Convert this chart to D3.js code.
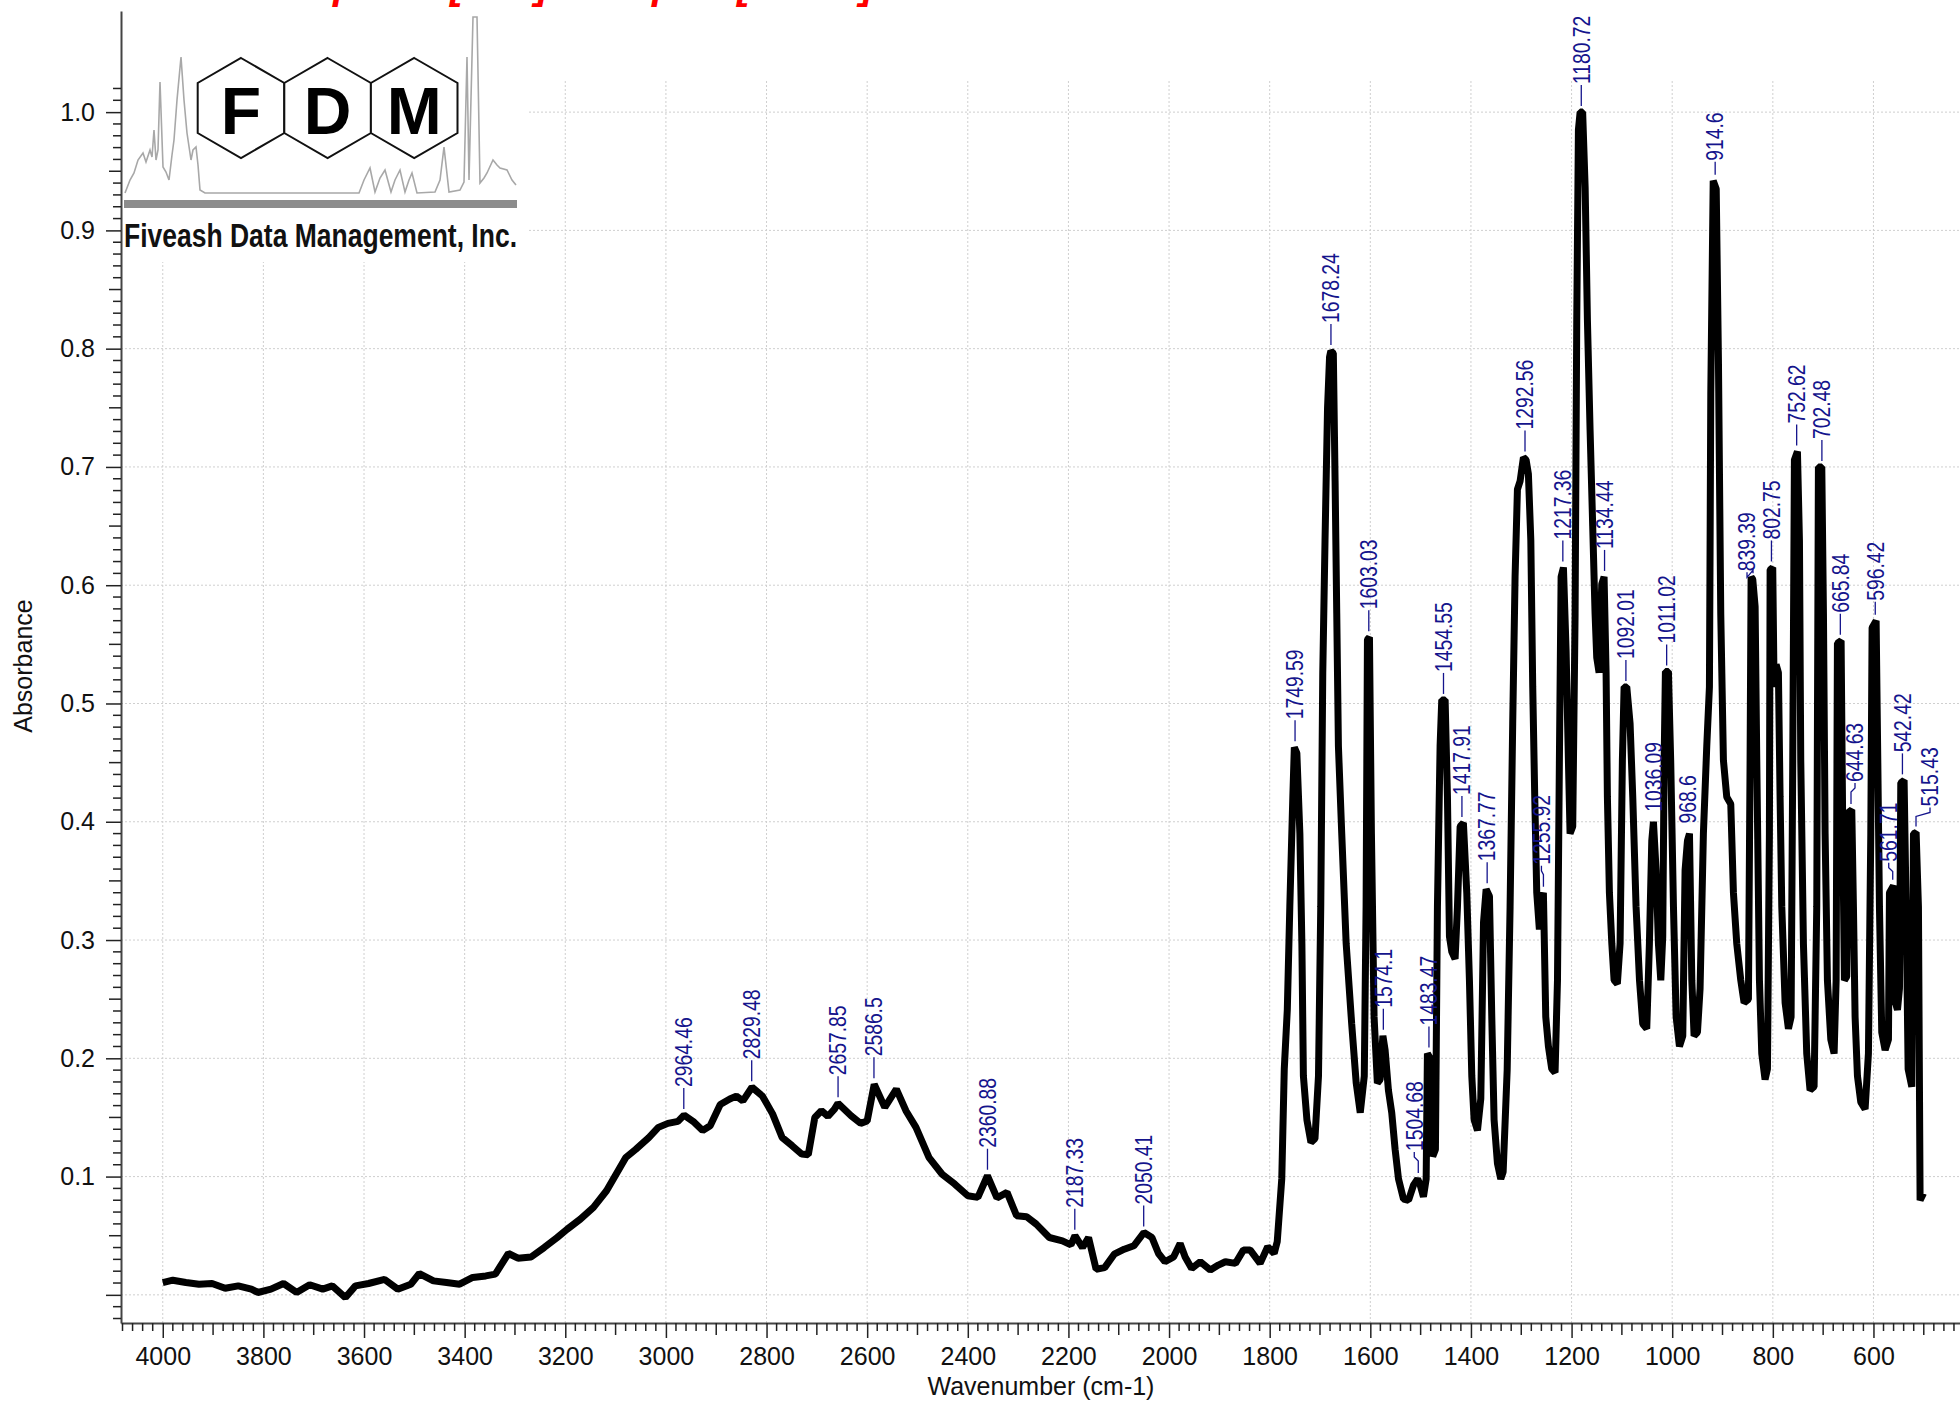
<!DOCTYPE html>
<html><head><meta charset="utf-8">
<script src="https://cdn.jsdelivr.net/npm/d3@7"></script>
<style>html,body{margin:0;padding:0;background:#fff;overflow:hidden}svg{display:block;font-family:"Liberation Sans",Arial,Helvetica,sans-serif}</style>
</head><body><svg id="chart" width="1960" height="1401"></svg>
<script>
// ---------------- data ----------------
const wavenumbers = [4000,3980,3954,3928,3902,3876,3850,3824,3811,3785,3760,3734,3708,3682,3663,3637,3617,3591,3559,3533,3507,3490,3462,3436,3410,3384,3358,3339,3313,3294,3268,3242,3216,3196,3170,3144,3118,3099,3080,3060,3034,3015,2996,2976,2964,2944,2927,2912,2892,2873,2860,2847,2829,2808,2788,2769,2749,2730,2717,2704,2691,2678,2665,2658,2632,2613,2600,2586,2565,2542,2523,2503,2477,2451,2426,2400,2380,2361,2342,2322,2303,2283,2264,2238,2212,2195,2187,2172,2160,2145,2128,2109,2089,2070,2050,2034,2021,2008,1991,1978,1968,1955,1938,1918,1902,1888,1868,1852,1839,1819,1804,1791,1785,1776,1771,1765,1760,1754,1751,1746,1740,1736,1733,1726,1718,1710,1703,1698.5,1694.5,1690,1685,1681,1678.5,1673.5,1670,1666.7,1663.4,1656.8,1648,1637,1628,1620,1612,1608.4,1605.7,1601.7,1597.8,1592.5,1586,1580.5,1575,1570.6,1564,1557.4,1550.7,1544,1534,1524,1514,1506,1501,1494.4,1489,1486.5,1481,1476,1470.6,1466.6,1461.3,1458,1451.3,1446.7,1442.7,1438,1431.5,1426.8,1421.5,1415,1408.3,1403,1398.3,1393.7,1387,1380.4,1375,1369.8,1363.2,1358.6,1354,1347.3,1340.7,1336,1328,1322.2,1317,1312.3,1307.6,1302.3,1295.7,1290.4,1285.8,1281,1277.2,1273.2,1269.2,1264,1260,1256,1251.3,1246,1239.4,1232.8,1228,1224.2,1220.8,1216.2,1210.9,1206.3,1203,1197.7,1193,1189.7,1186.4,1183,1178,1173,1168.5,1163.2,1158,1153.3,1150,1145.3,1140,1135.4,1131.4,1128.8,1124.8,1120,1115.5,1109,1103.6,1099,1095.6,1090.3,1083.7,1078.4,1071.8,1065,1058.5,1050.6,1045.3,1040.6,1037.3,1032,1027.4,1022.7,1018.8,1016,1013.5,1007.5,1003,997.5,992.2,985.6,979,974.4,969.7,965.7,961,956.5,949.8,944.6,938,931.3,926,923.3,918.5,912.5,908.1,903.5,898.2,891.6,883.6,878.3,871.7,863.7,857.1,848.5,845.2,843.2,839.9,835.2,831.9,826.6,822,815.4,810.7,806.8,805.4,800.2,797.5,793.5,788.9,785.6,782.2,775.6,769,763.7,760.4,757.1,751.1,747.1,744.5,739.2,732.6,726,718,712.7,709.4,702.7,699.4,696.1,691.5,684.8,678.2,674.2,671.6,664.3,661,657.7,653.1,649.7,643.1,639.8,636.5,631.8,625.2,616.6,610,605.3,602.7,594.7,591.4,588.1,583.5,576.8,570.2,568.2,560.3,556.3,552.3,548.3,545.7,539.1,535.1,531.1,523.8,520.5,515.2,510.6,507.3,500.6];
const absorbance = [0.0104,0.0124,0.0104,0.009,0.0096,0.0056,0.0076,0.0048,0.002,0.0048,0.0096,0.002,0.0085,0.0048,0.0076,-0.0023,0.0076,0.0096,0.013,0.0048,0.009,0.018,0.0118,0.0104,0.009,0.0147,0.016,0.0175,0.035,0.031,0.032,0.040,0.0485,0.0556,0.064,0.074,0.088,0.102,0.116,0.123,0.133,0.1416,0.145,0.1467,0.152,0.146,0.139,0.143,0.161,0.1656,0.168,0.164,0.1755,0.168,0.153,0.133,0.126,0.119,0.1185,0.15,0.1557,0.151,0.157,0.162,0.1515,0.145,0.147,0.178,0.1585,0.174,0.1557,0.1416,0.116,0.102,0.0937,0.0838,0.0824,0.1007,0.082,0.0866,0.0669,0.066,0.0598,0.0485,0.0457,0.0423,0.05,0.040,0.0485,0.0217,0.023,0.0344,0.0386,0.0415,0.0527,0.0485,0.035,0.028,0.032,0.0435,0.032,0.0223,0.028,0.021,0.0252,0.028,0.0266,0.038,0.038,0.0266,0.0407,0.035,0.045,0.098,0.191,0.241,0.328,0.421,0.463,0.458,0.39,0.297,0.185,0.148,0.129,0.132,0.185,0.328,0.526,0.638,0.75,0.793,0.798,0.796,0.688,0.576,0.464,0.39,0.297,0.229,0.179,0.154,0.185,0.328,0.554,0.556,0.39,0.235,0.179,0.182,0.219,0.207,0.173,0.154,0.123,0.098,0.081,0.08,0.093,0.098,0.093,0.083,0.098,0.204,0.2,0.117,0.123,0.328,0.464,0.503,0.503,0.421,0.303,0.29,0.284,0.328,0.396,0.399,0.34,0.266,0.185,0.148,0.139,0.166,0.315,0.343,0.337,0.235,0.148,0.111,0.098,0.104,0.19,0.328,0.483,0.607,0.681,0.688,0.708,0.706,0.694,0.638,0.514,0.421,0.34,0.309,0.334,0.34,0.235,0.21,0.191,0.188,0.266,0.452,0.607,0.615,0.545,0.452,0.39,0.396,0.576,0.824,0.985,1.0,1.0,0.936,0.824,0.731,0.65,0.576,0.539,0.526,0.601,0.607,0.526,0.421,0.34,0.297,0.266,0.263,0.297,0.452,0.514,0.514,0.483,0.421,0.328,0.266,0.229,0.225,0.297,0.384,0.4,0.359,0.297,0.266,0.303,0.452,0.527,0.527,0.452,0.328,0.235,0.21,0.219,0.359,0.384,0.39,0.266,0.219,0.222,0.259,0.39,0.464,0.514,0.762,0.942,0.935,0.79,0.576,0.452,0.421,0.415,0.34,0.297,0.266,0.247,0.25,0.452,0.607,0.605,0.582,0.452,0.266,0.204,0.182,0.191,0.39,0.613,0.615,0.514,0.533,0.526,0.421,0.328,0.247,0.225,0.235,0.452,0.706,0.713,0.638,0.452,0.297,0.204,0.173,0.176,0.328,0.7,0.7,0.576,0.39,0.266,0.216,0.204,0.266,0.551,0.553,0.39,0.266,0.269,0.408,0.41,0.328,0.235,0.185,0.163,0.157,0.204,0.39,0.564,0.57,0.452,0.328,0.222,0.207,0.216,0.34,0.346,0.247,0.241,0.259,0.433,0.435,0.328,0.191,0.176,0.39,0.391,0.328,0.08,0.086];

const yTickValues = [0.1,0.2,0.3,0.4,0.5,0.6,0.7,0.8,0.9,1.0];
const xTickValues = [4000,3800,3600,3400,3200,3000,2800,2600,2400,2200,2000,1800,1600,1400,1200,1000,800,600];

const peakLabels = ["2964.46","2829.48","2657.85","2586.5","2360.88","2187.33","2050.41","1749.59","1678.24","1603.03","1574.1","1504.68","1483.47","1454.55","1417.91","1367.77","1292.56","1255.92","1217.36","1180.72","1134.44","1092.01","1036.09","1011.02","968.6","914.6","839.39","802.75","752.62","702.48","665.84","644.63","596.42","561.71","542.42","515.43"];
const peakHeights = [0.152,0.1755,0.162,0.178,0.1007,0.05,0.0527,0.463,0.798,0.556,0.219,0.098,0.204,0.503,0.399,0.343,0.708,0.34,0.615,1.0,0.607,0.514,0.4,0.527,0.39,0.942,0.605,0.615,0.713,0.7,0.553,0.41,0.57,0.346,0.435,0.391];

const xAxisTitle = "Wavenumber (cm-1)";
const yAxisTitle = "Absorbance";
const logoLetters = ["F","D","M"];
const logoCaption = "Fiveash Data Management, Inc.";
const titleGlyphs = ["p","[","]","p","[","]"]; // only the descenders of the cropped red title remain visible

// ------------- layout (not data) -------------
const labelLayout = {
  "1036.09":{lift:8}, "968.6":{lift:8}, "914.6":{lift:18}, "839.39":{lift:6,dx:-6},
  "596.42":{lift:18}, "1504.68":{dx:-4}, "561.71":{dx:-4,lift:22}, "515.43":{dx:14,lift:24},
  "644.63":{dx:4}, "1255.92":{dx:-2}
};
const titleGlyphX = [333, 450, 535, 652, 737, 860];

const svg = d3.select("#chart");
const x = d3.scaleLinear().domain([4083, 428]).range([121, 1960]);
const y = d3.scaleLinear().domain([-0.0238, 1.0855]).range([1323, 11]);
const gridTop = 81, logoRight = 528, logoBottom = 262;

// grid
const grid = svg.append("g").attr("stroke","#cfcfcf").attr("stroke-width",1).attr("stroke-dasharray","2,2");
xTickValues.forEach(v => grid.append("line").attr("x1",x(v)).attr("x2",x(v)).attr("y1",gridTop).attr("y2",1323));
[0].concat(yTickValues).forEach(v => grid.append("line").attr("x1",121).attr("x2",1960).attr("y1",y(v)).attr("y2",y(v)));

// cropped red title
const title = svg.append("text").attr("y",-1).attr("font-size",40).attr("font-weight","bold").attr("font-style","italic").attr("fill","#f00");
titleGlyphs.forEach((g,i) => title.append("tspan").attr("x",titleGlyphX[i]).text(g));

// logo background
svg.append("rect").attr("x",122).attr("y",8).attr("width",logoRight-122).attr("height",logoBottom-8).attr("fill","#fff");

// logo
const logo = svg.append("g");
const logoSpec = [[125,193],[130,180],[134,173],[138,160],[143,153],[146,162],[150,150],[152,157],[154,130],[156,160],[158,150],[160,82],[163,167],[166,172],[169,180],[172,155],[174,140],[177,100],[181,57],[184,100],[187,133],[191,160],[193,150],[196,147],[198,165],[200,190],[205,193],[359,193],[364,180],[370,168],[375,192],[380,178],[385,170],[391,192],[395,180],[400,170],[405,192],[409,180],[412,173],[417,193],[435,192],[440,180],[444,147],[449,192],[460,190],[464,182],[467,57],[469,180],[473,17],[477,17],[480,183],[484,178],[487,173],[493,160],[497,165],[500,168],[507,170],[512,180],[516,185]];
logo.append("path").attr("d",d3.line()(logoSpec)).attr("fill","none").attr("stroke","#a8a8a8").attr("stroke-width",1.6);
logo.append("rect").attr("x",124).attr("y",200).attr("width",393).attr("height",8).attr("fill","#8c8c8c");
const hexR = 50, hexCy = 108;
logoLetters.forEach((L,i) => {
  const cx = 241 + i*86.6;
  const pts = d3.range(6).map(k => { const a = (-90 + 60*k)*Math.PI/180; return [cx + hexR*Math.cos(a), hexCy + hexR*Math.sin(a)]; });
  logo.append("polygon").attr("points",pts.map(p=>p.join(",")).join(" ")).attr("fill","#fff").attr("stroke","#111").attr("stroke-width",2);
  logo.append("text").attr("x",cx).attr("y",134).attr("text-anchor","middle").attr("font-size",66).attr("font-weight","bold").attr("fill","#000").text(L);
});
logo.append("text").attr("x",124).attr("y",247).attr("font-size",33).attr("font-weight","bold").attr("fill","#111")
  .attr("textLength",393).attr("lengthAdjust","spacingAndGlyphs").text(logoCaption);

// axes
const yAxis = svg.append("g").attr("transform","translate(121,0)")
  .call(d3.axisLeft(y).tickValues([0].concat(yTickValues)).tickSize(15).tickSizeOuter(0).tickPadding(11)
    .tickFormat(d => d === 0 ? "" : d3.format(".1f")(d)));
const xAxis = svg.append("g").attr("transform","translate(0,1323)")
  .call(d3.axisBottom(x).tickValues(xTickValues).tickSize(15).tickSizeOuter(0).tickPadding(9).tickFormat(d3.format("d")));
[yAxis,xAxis].forEach(g => {
  g.select(".domain").attr("stroke","#444").attr("stroke-width",2);
  g.selectAll(".tick line").attr("stroke","#222").attr("stroke-width",1.5);
  g.selectAll(".tick text").attr("font-size",25).attr("fill","#111").attr("font-family",'"Liberation Sans",Arial,sans-serif');
});
// minor ticks
const yMinor = d3.range(-2, 103).map(i => i/100).filter(v => Math.round(v*100)%10 !== 0);
yMinor.forEach(v => {
  const mid = Math.round(v*100)%5 === 0;
  svg.append("line").attr("x1",121).attr("x2",121-(mid?12:8)).attr("y1",y(v)).attr("y2",y(v)).attr("stroke","#222").attr("stroke-width",1.5);
});
const xMinor = d3.range(440, 4081, 20).filter(v => v % 200 !== 0);
xMinor.forEach(v => {
  const mid = v % 100 === 0;
  svg.append("line").attr("x1",x(v)).attr("x2",x(v)).attr("y1",1323).attr("y2",1323+(mid?12:8)).attr("stroke","#222").attr("stroke-width",1.5);
});

// axis titles
svg.append("text").attr("transform","translate(23,666) rotate(-90)").attr("text-anchor","middle").attr("dominant-baseline","central")
  .attr("font-size",25).attr("fill","#111").text(yAxisTitle);
svg.append("text").attr("x",1041).attr("y",1386).attr("text-anchor","middle").attr("dominant-baseline","central")
  .attr("font-size",25).attr("fill","#111").text(xAxisTitle);

// spectrum
const pts = wavenumbers.map((w,i) => [w, absorbance[i]]);
svg.append("path").datum(pts).attr("fill","none").attr("stroke","#000").attr("stroke-width",7).attr("stroke-linejoin","bevel")
  .attr("d", d3.line().x(d => x(d[0])).y(d => y(d[1])));

// peak labels
const labelColor = "#14148c";
const lg = svg.append("g");
peakLabels.forEach((lab,i) => {
  const wn = parseFloat(lab), px = x(wn), py = y(peakHeights[i]);
  const L = labelLayout[lab] || {};
  const lift = L.lift !== undefined ? L.lift : 26, dx = L.dx || 0;
  const tx = px + dx, ty = py - lift;
  if (lift > 10 || dx !== 0) {
    lg.append("path").attr("d", d3.line()([[px, py-6],[px, Math.min(py-9, ty+8)],[tx, ty+4],[tx, ty-1]]))
      .attr("fill","none").attr("stroke",labelColor).attr("stroke-width",1.3);
  }
  lg.append("text").attr("transform",`translate(${tx},${ty-2}) rotate(-90) scale(0.84,1)`)
    .attr("dy","0.36em").attr("font-size",23).attr("fill",labelColor).text(lab);
});
</script></body></html>
